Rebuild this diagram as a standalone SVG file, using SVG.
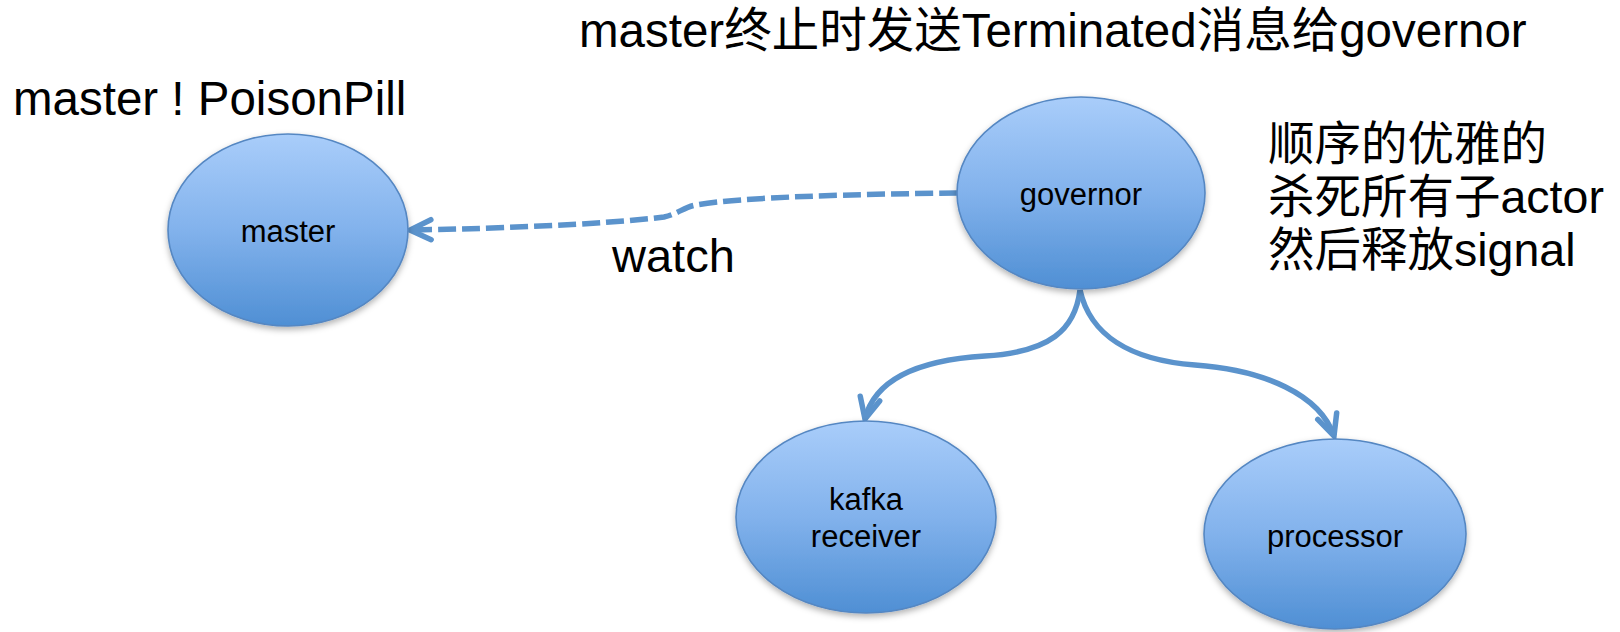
<svg xmlns="http://www.w3.org/2000/svg" width="1620" height="632" viewBox="0 0 1620 632">
  <style>
    .txt { font-family: "Liberation Sans", Arial, "Noto Sans CJK SC", sans-serif; fill: #000; }
    .big { font-size: 46.5px; }
    .lbl { font-size: 31px; text-anchor: middle; }
    .node { fill: url(#nodeFill); stroke: #5587c2; stroke-width: 1.6; filter: url(#shadow); }
    .link { fill: none; stroke: #5b93cc; stroke-width: 5.5; stroke-linecap: butt; }
    .dash { stroke-dasharray: 18 6; }
  </style>
  <defs>
    <linearGradient id="nodeFill" x1="0" y1="0" x2="0" y2="1">
      <stop offset="0" stop-color="#a9cdfa"/>
      <stop offset="0.5" stop-color="#82b2ec"/>
      <stop offset="1" stop-color="#4f8fd4"/>
    </linearGradient>
    <filter id="shadow" x="-20%" y="-20%" width="140%" height="150%">
      <feDropShadow dx="0" dy="3" stdDeviation="3" flood-color="#000" flood-opacity="0.3"/>
    </filter>
    <marker id="chevron" markerUnits="userSpaceOnUse" viewBox="-26 -16 30 32" markerWidth="30" markerHeight="32" refX="0" refY="0" orient="auto">
      <path d="M-21,-10 L0,0 L-21,10" fill="none" stroke="#5b93cc" stroke-width="5.5" stroke-dasharray="none" stroke-linejoin="miter" stroke-linecap="round"/>
    </marker>
  </defs>

  <rect width="1620" height="632" fill="#ffffff"/>

  <!-- free text -->
  <text class="txt" x="579" y="47" font-size="47.5">master终止时发送Terminated消息给governor</text>
  <text class="txt" x="13" y="115" font-size="47.5">master ! PoisonPill</text>
  <text class="txt" x="612" y="272" font-size="47">watch</text>
  <g class="txt big">
    <text x="1268" y="160">顺序的优雅的</text>
    <text x="1268" y="213">杀死所有子actor</text>
    <text x="1268" y="266">然后释放signal</text>
  </g>

  <!-- connectors -->
  <g id="connectors">
    <path class="link dash" d="M957,193 C860,194 740,197 696,205 C684,207 678,214 664,217 C600,225 480,229 410,230" marker-end="url(#chevron)"/>
    <path class="link" d="M1080,290 C1075,330 1050,352 985,356 C920,360 875,378 865,419" marker-end="url(#chevron)"/>
    <path class="link" d="M1080,290 C1090,335 1130,360 1195,365 C1265,370 1320,395 1334,436" marker-end="url(#chevron)"/>
  </g>

  <!-- nodes -->
  <g id="master">
    <ellipse class="node" cx="288" cy="230" rx="120" ry="96"/>
    <text class="txt lbl" x="288" y="242">master</text>
  </g>
  <g id="governor">
    <ellipse class="node" cx="1081" cy="193" rx="124" ry="96"/>
    <text class="txt lbl" x="1081" y="205">governor</text>
  </g>
  <g id="kafka-receiver">
    <ellipse class="node" cx="866" cy="517" rx="130" ry="96"/>
    <text class="txt lbl" x="866" y="510">kafka</text>
    <text class="txt lbl" x="866" y="547">receiver</text>
  </g>
  <g id="processor">
    <ellipse class="node" cx="1335" cy="534" rx="131" ry="95"/>
    <text class="txt lbl" x="1335" y="547">processor</text>
  </g>
</svg>
